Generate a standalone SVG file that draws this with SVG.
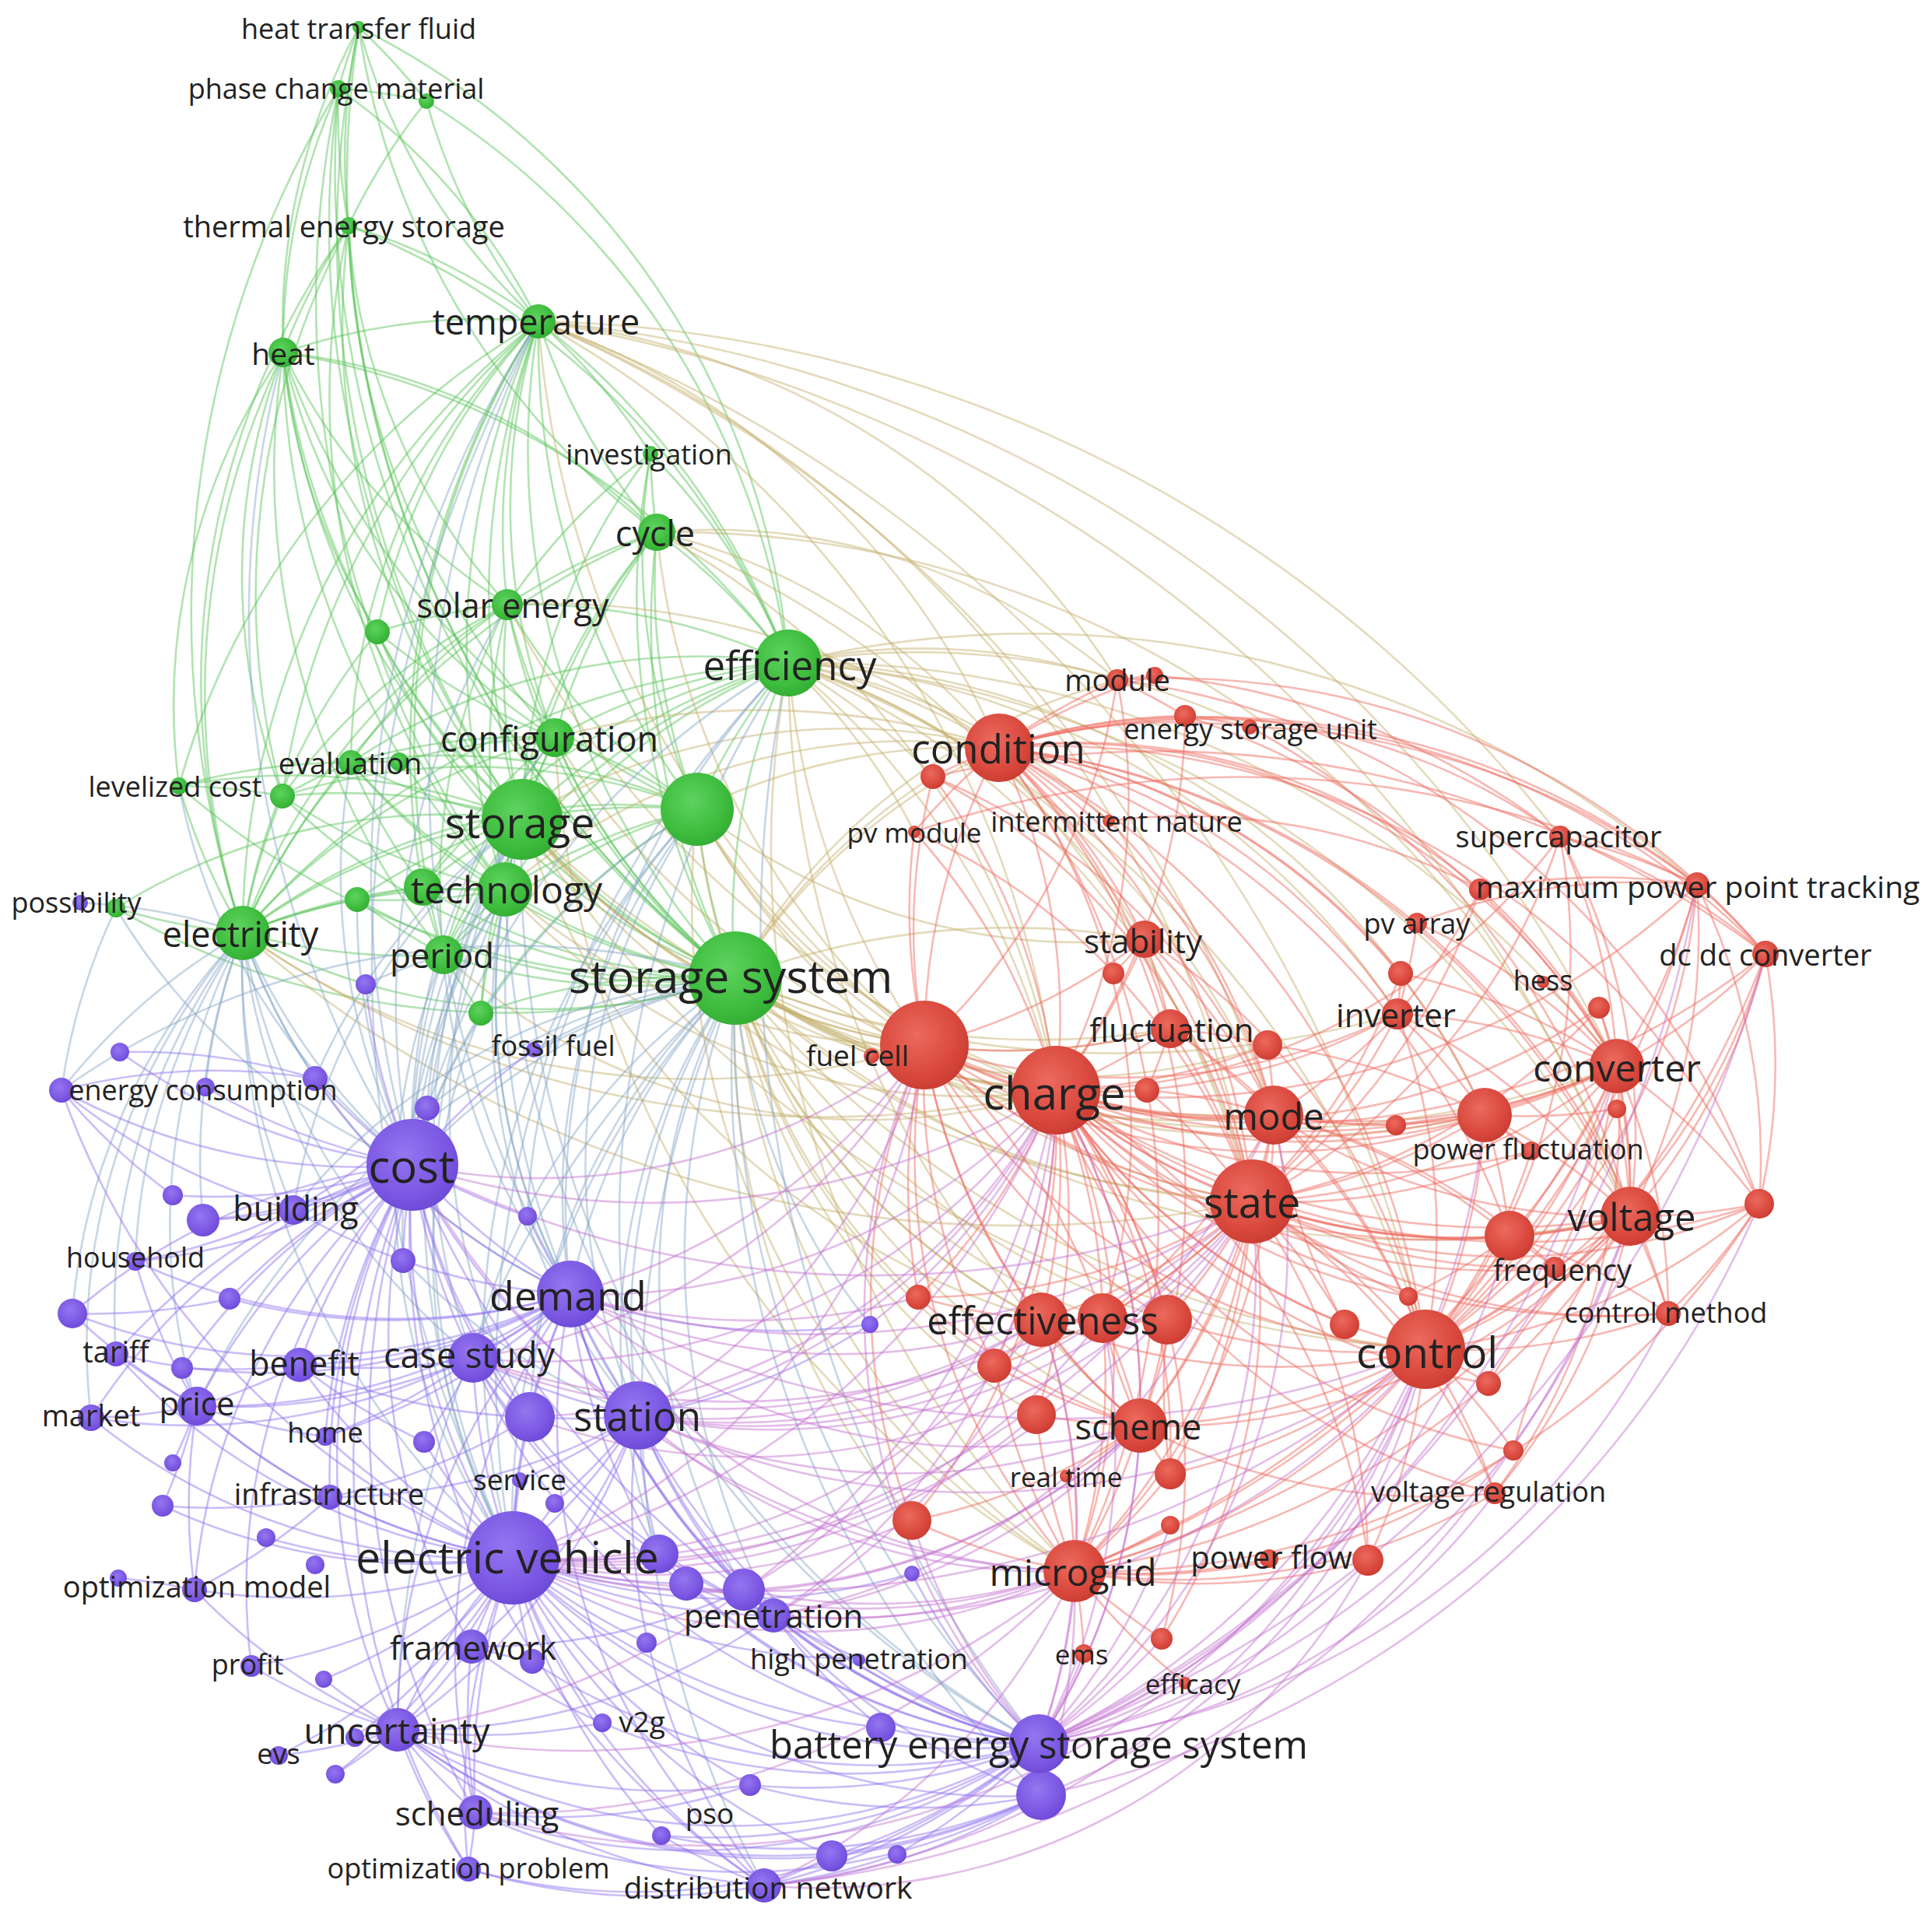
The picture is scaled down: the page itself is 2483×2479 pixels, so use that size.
<svg xmlns="http://www.w3.org/2000/svg" width="2483" height="2479" viewBox="0 0 2483 2479">
<style>
.e path{fill:none;stroke-width:2.6;stroke-linecap:round}
.g path{stroke:#5cc55c;stroke-opacity:.48}
.r path{stroke:#ee6a60;stroke-opacity:.48}
.p path{stroke:#8c6ff0;stroke-opacity:.46}
.gr path{stroke:#c4ae6a;stroke-opacity:.46}
.gp path{stroke:#86a6c6;stroke-opacity:.46}
.pr path{stroke:#c36fcf;stroke-opacity:.46}
.ng{fill:url(#radG)}
.nr{fill:url(#radR)}
.np{fill:url(#radP)}
text{font-family:"Open Sans","DejaVu Sans",sans-serif;fill:#222222;text-anchor:middle;dominant-baseline:central}
</style>
<defs>
<radialGradient id="radG" cx=".42" cy=".38" r=".65"><stop offset="0" stop-color="#5fd35f"/><stop offset=".7" stop-color="#3dbc3d"/><stop offset="1" stop-color="#33ad33"/></radialGradient>
<radialGradient id="radR" cx=".42" cy=".38" r=".65"><stop offset="0" stop-color="#ec6a5e"/><stop offset=".7" stop-color="#d9483d"/><stop offset="1" stop-color="#c93c32"/></radialGradient>
<radialGradient id="radP" cx=".42" cy=".38" r=".65"><stop offset="0" stop-color="#9476f0"/><stop offset=".7" stop-color="#7b57e3"/><stop offset="1" stop-color="#6c49d6"/></radialGradient>
</defs>
<rect width="2483" height="2479" fill="#ffffff"/>
<g id="connectors" class="e">
<g class="g">
<path d="M364 453A800 800 0 0 1 692 413"/><path d="M448 290A800 800 0 0 1 692 413"/><path d="M435 114A800 800 0 0 1 692 413"/><path d="M692 413A800 800 0 0 1 461 35"/><path d="M844 684A800 800 0 0 1 692 413"/><path d="M652 777A800 800 0 0 1 692 413"/><path d="M671 1053A1000 1000 0 0 1 692 413"/><path d="M945 1257A1000 1000 0 0 1 692 413"/><path d="M692 413A1000 1000 0 0 1 1013 852"/><path d="M312 1199A1000 1000 0 0 1 692 413"/><path d="M649 1143A1000 1000 0 0 1 692 413"/><path d="M713 948A800 800 0 0 1 692 413"/><path d="M896 1040A1000 1000 0 0 1 692 413"/><path d="M570 1227A1000 1000 0 0 1 692 413"/><path d="M692 413A800 800 0 0 1 836 583"/><path d="M485 812A800 800 0 0 1 692 413"/><path d="M363 1023A1000 1000 0 0 1 692 413"/><path d="M451 980A800 800 0 0 1 692 413"/><path d="M230 1010A1000 1000 0 0 1 692 413"/><path d="M543 1140A1000 1000 0 0 1 692 413"/>
<path d="M435 114A800 800 0 0 1 461 35"/><path d="M448 290A800 800 0 0 1 461 35"/><path d="M461 35A800 800 0 0 1 548 130"/><path d="M364 453A800 800 0 0 1 461 35"/><path d="M945 1257A1300 1300 0 0 1 461 35"/><path d="M671 1053A1300 1300 0 0 1 461 35"/><path d="M461 35A1000 1000 0 0 1 1013 852"/><path d="M844 684A1000 1000 0 0 1 461 35"/>
<path d="M448 290A800 800 0 0 1 435 114"/><path d="M364 453A800 800 0 0 1 435 114"/><path d="M435 114A800 800 0 0 1 548 130"/><path d="M671 1053A1300 1300 0 0 1 435 114"/><path d="M945 1257A1300 1300 0 0 1 435 114"/><path d="M649 1143A1300 1300 0 0 1 435 114"/><path d="M312 1199A1300 1300 0 0 1 435 114"/>
<path d="M692 413A800 800 0 0 1 548 130"/><path d="M548 130A1000 1000 0 0 1 1013 852"/><path d="M448 290A800 800 0 0 1 548 130"/>
<path d="M364 453A800 800 0 0 1 448 290"/><path d="M671 1053A1000 1000 0 0 1 448 290"/><path d="M945 1257A1300 1300 0 0 1 448 290"/><path d="M652 777A800 800 0 0 1 448 290"/><path d="M649 1143A1000 1000 0 0 1 448 290"/><path d="M312 1199A1000 1000 0 0 1 448 290"/><path d="M713 948A1000 1000 0 0 1 448 290"/><path d="M448 290A1000 1000 0 0 1 1013 852"/><path d="M363 1023A1000 1000 0 0 1 448 290"/>
<path d="M671 1053A1000 1000 0 0 1 364 453"/><path d="M945 1257A1000 1000 0 0 1 364 453"/><path d="M312 1199A1000 1000 0 0 1 364 453"/><path d="M649 1143A1000 1000 0 0 1 364 453"/><path d="M652 777A800 800 0 0 1 364 453"/><path d="M713 948A800 800 0 0 1 364 453"/><path d="M364 453A1000 1000 0 0 1 1013 852"/><path d="M570 1227A1000 1000 0 0 1 364 453"/><path d="M363 1023A800 800 0 0 1 364 453"/><path d="M485 812A800 800 0 0 1 364 453"/><path d="M364 453A800 800 0 0 1 844 684"/><path d="M230 1010A800 800 0 0 1 364 453"/><path d="M896 1040A1000 1000 0 0 1 364 453"/>
<path d="M844 684A800 800 0 0 1 836 583"/><path d="M844 684A800 800 0 0 1 1013 852"/><path d="M671 1053A800 800 0 0 1 844 684"/><path d="M945 1257A1000 1000 0 0 1 844 684"/><path d="M652 777A800 800 0 0 1 844 684"/><path d="M649 1143A800 800 0 0 1 844 684"/><path d="M713 948A800 800 0 0 1 844 684"/><path d="M896 1040A800 800 0 0 1 844 684"/><path d="M312 1199A1000 1000 0 0 1 844 684"/>
<path d="M836 583A800 800 0 0 1 1013 852"/><path d="M652 777A800 800 0 0 1 836 583"/><path d="M945 1257A1000 1000 0 0 1 836 583"/><path d="M671 1053A800 800 0 0 1 836 583"/>
<path d="M671 1053A800 800 0 0 1 652 777"/><path d="M945 1257A800 800 0 0 1 652 777"/><path d="M652 777A800 800 0 0 1 1013 852"/><path d="M713 948A800 800 0 0 1 652 777"/><path d="M649 1143A800 800 0 0 1 652 777"/><path d="M312 1199A800 800 0 0 1 652 777"/><path d="M485 812A800 800 0 0 1 652 777"/><path d="M451 980A800 800 0 0 1 652 777"/><path d="M570 1227A800 800 0 0 1 652 777"/><path d="M896 1040A800 800 0 0 1 652 777"/><path d="M363 1023A800 800 0 0 1 652 777"/>
<path d="M671 1053A800 800 0 0 1 1013 852"/><path d="M945 1257A800 800 0 0 1 1013 852"/><path d="M896 1040A800 800 0 0 1 1013 852"/><path d="M713 948A800 800 0 0 1 1013 852"/><path d="M649 1143A800 800 0 0 1 1013 852"/><path d="M312 1199A1000 1000 0 0 1 1013 852"/><path d="M570 1227A800 800 0 0 1 1013 852"/><path d="M451 980A800 800 0 0 1 1013 852"/><path d="M543 1140A800 800 0 0 1 1013 852"/>
<path d="M671 1053A800 800 0 0 1 713 948"/><path d="M945 1257A800 800 0 0 1 713 948"/><path d="M713 948A800 800 0 0 1 896 1040"/><path d="M649 1143A800 800 0 0 1 713 948"/><path d="M312 1199A800 800 0 0 1 713 948"/><path d="M570 1227A800 800 0 0 1 713 948"/><path d="M451 980A800 800 0 0 1 713 948"/><path d="M543 1140A800 800 0 0 1 713 948"/><path d="M513 979A800 800 0 0 1 713 948"/>
<path d="M945 1257A800 800 0 0 1 671 1053"/><path d="M671 1053A800 800 0 0 1 896 1040"/><path d="M649 1143A800 800 0 0 1 671 1053"/><path d="M312 1199A800 800 0 0 1 671 1053"/><path d="M570 1227A800 800 0 0 1 671 1053"/><path d="M671 1053A800 800 0 0 1 451 980"/><path d="M230 1010A800 800 0 0 1 671 1053"/><path d="M363 1023A800 800 0 0 1 671 1053"/><path d="M459 1156A800 800 0 0 1 671 1053"/><path d="M543 1140A800 800 0 0 1 671 1053"/><path d="M149 1167A800 800 0 0 1 671 1053"/><path d="M671 1053A800 800 0 0 1 485 812"/><path d="M618 1302A800 800 0 0 1 671 1053"/>
<path d="M945 1257A800 800 0 0 1 896 1040"/><path d="M945 1257A800 800 0 0 1 649 1143"/><path d="M945 1257A800 800 0 0 1 312 1199"/><path d="M945 1257A800 800 0 0 1 570 1227"/><path d="M618 1302A800 800 0 0 1 945 1257"/><path d="M945 1257A800 800 0 0 1 459 1156"/><path d="M945 1257A800 800 0 0 1 543 1140"/><path d="M945 1257A800 800 0 0 1 363 1023"/><path d="M945 1257A800 800 0 0 1 451 980"/><path d="M945 1257A1000 1000 0 0 1 230 1010"/><path d="M945 1257A1000 1000 0 0 1 149 1167"/><path d="M945 1257A800 800 0 0 1 485 812"/>
<path d="M649 1143A800 800 0 0 1 896 1040"/><path d="M312 1199A800 800 0 0 1 896 1040"/><path d="M570 1227A800 800 0 0 1 896 1040"/><path d="M451 980A800 800 0 0 1 896 1040"/><path d="M363 1023A800 800 0 0 1 896 1040"/>
<path d="M312 1199A800 800 0 0 1 649 1143"/><path d="M570 1227A800 800 0 0 1 312 1199"/><path d="M312 1199A800 800 0 0 1 149 1167"/><path d="M312 1199A800 800 0 0 1 230 1010"/><path d="M312 1199A800 800 0 0 1 363 1023"/><path d="M312 1199A800 800 0 0 1 543 1140"/><path d="M312 1199A800 800 0 0 1 459 1156"/><path d="M312 1199A800 800 0 0 1 451 980"/>
<path d="M570 1227A800 800 0 0 1 649 1143"/><path d="M649 1143A800 800 0 0 1 543 1140"/><path d="M649 1143A800 800 0 0 1 459 1156"/><path d="M649 1143A800 800 0 0 1 363 1023"/><path d="M649 1143A800 800 0 0 1 451 980"/><path d="M570 1227A800 800 0 0 1 459 1156"/><path d="M618 1302A800 800 0 0 1 570 1227"/><path d="M451 980A800 800 0 0 1 513 979"/><path d="M230 1010A800 800 0 0 1 451 980"/><path d="M363 1023A800 800 0 0 1 451 980"/><path d="M230 1010A800 800 0 0 1 363 1023"/><path d="M713 948A800 800 0 0 1 485 812"/><path d="M312 1199A800 800 0 0 1 485 812"/>
<path d="M896 1040A800 800 0 0 1 836 583"/><path d="M618 1302A800 800 0 0 1 896 1040"/><path d="M618 1302A800 800 0 0 1 649 1143"/><path d="M945 1257A800 800 0 0 1 713 948"/><path d="M459 1156A800 800 0 0 1 543 1140"/><path d="M543 1140A800 800 0 0 1 451 980"/><path d="M570 1227A800 800 0 0 1 543 1140"/>
</g>
<g class="gr">
<path d="M692 413A1000 1000 0 0 1 1284 961"/><path d="M692 413A1300 1300 0 0 1 1357 1401"/><path d="M692 413A1500 1500 0 0 1 1609 1544"/><path d="M692 413A1000 1000 0 0 1 1436 874"/><path d="M692 413A1700 1700 0 0 1 2005 1075"/><path d="M692 413A1700 1700 0 0 1 2078 1370"/><path d="M692 413A1800 1800 0 0 1 2095 1563"/><path d="M1188 1343A1300 1300 0 0 1 692 413"/><path d="M692 413A1700 1700 0 0 1 1637 1433"/><path d="M692 413A1800 1800 0 0 1 1832 1734"/>
<path d="M844 684A800 800 0 0 1 1284 961"/><path d="M844 684A1000 1000 0 0 1 1357 1401"/><path d="M1188 1343A1000 1000 0 0 1 844 684"/><path d="M844 684A800 800 0 0 1 1436 874"/><path d="M844 684A1300 1300 0 0 1 1609 1544"/><path d="M652 777A1000 1000 0 0 1 1284 961"/><path d="M1357 1401A1300 1300 0 0 1 652 777"/>
<path d="M1013 852A800 800 0 0 1 1284 961"/><path d="M1013 852A1000 1000 0 0 1 1357 1401"/><path d="M1188 1343A1000 1000 0 0 1 1013 852"/><path d="M1013 852A1000 1000 0 0 1 1609 1544"/><path d="M1013 852A1000 1000 0 0 1 1637 1433"/><path d="M1013 852A1300 1300 0 0 1 1832 1734"/><path d="M1013 852A800 800 0 0 1 1436 874"/><path d="M1013 852A1000 1000 0 0 1 1606 934"/><path d="M1013 852A1300 1300 0 0 1 2078 1370"/><path d="M1013 852A1300 1300 0 0 1 2095 1563"/><path d="M1013 852A800 800 0 0 1 1471 1207"/><path d="M1013 852A800 800 0 0 1 1425 1055"/><path d="M1013 852A800 800 0 0 1 1199 998"/><path d="M1013 852A800 800 0 0 1 1175 1069"/><path d="M1013 852A1300 1300 0 0 1 2181 1137"/><path d="M1465 1832A1300 1300 0 0 1 1013 852"/><path d="M1381 2019A1300 1300 0 0 1 1013 852"/><path d="M1013 852A1000 1000 0 0 1 1796 1303"/>
<path d="M713 948A1000 1000 0 0 1 1284 961"/><path d="M1357 1401A1000 1000 0 0 1 713 948"/><path d="M1381 2019A1300 1300 0 0 1 713 948"/><path d="M1357 1401A1000 1000 0 0 1 671 1053"/><path d="M1188 1343A800 800 0 0 1 671 1053"/><path d="M671 1053A800 800 0 0 1 1284 961"/><path d="M1609 1544A1300 1300 0 0 1 671 1053"/><path d="M1832 1734A1500 1500 0 0 1 671 1053"/><path d="M1637 1433A1300 1300 0 0 1 671 1053"/>
<path d="M1357 1401A800 800 0 0 1 945 1257"/><path d="M1188 1343A800 800 0 0 1 945 1257"/><path d="M1609 1544A1000 1000 0 0 1 945 1257"/><path d="M1832 1734A1300 1300 0 0 1 945 1257"/><path d="M1637 1433A1000 1000 0 0 1 945 1257"/><path d="M945 1257A800 800 0 0 1 1284 961"/><path d="M1381 2019A1000 1000 0 0 1 945 1257"/><path d="M1338 1696A800 800 0 0 1 945 1257"/><path d="M2078 1370A1300 1300 0 0 1 945 1257"/><path d="M2095 1563A1300 1300 0 0 1 945 1257"/><path d="M1465 1832A1000 1000 0 0 1 945 1257"/><path d="M945 1257A1000 1000 0 0 1 1471 1207"/><path d="M1504 1322A1000 1000 0 0 1 945 1257"/><path d="M1796 1303A1300 1300 0 0 1 945 1257"/><path d="M1908 1433A1300 1300 0 0 1 945 1257"/><path d="M945 1257A800 800 0 0 1 1436 874"/><path d="M945 1257A800 800 0 0 1 1199 998"/><path d="M1500 1696A1000 1000 0 0 1 945 1257"/><path d="M1180 1667A800 800 0 0 1 945 1257"/>
<path d="M896 1040A800 800 0 0 1 1284 961"/><path d="M1357 1401A800 800 0 0 1 896 1040"/><path d="M1188 1343A800 800 0 0 1 896 1040"/><path d="M1609 1544A1000 1000 0 0 1 896 1040"/><path d="M1357 1401A1300 1300 0 0 1 312 1199"/><path d="M1188 1343A1000 1000 0 0 1 312 1199"/><path d="M1609 1544A1500 1500 0 0 1 312 1199"/><path d="M1357 1401A800 800 0 0 1 649 1143"/><path d="M1188 1343A800 800 0 0 1 649 1143"/><path d="M649 1143A800 800 0 0 1 1284 961"/><path d="M1357 1401A800 800 0 0 1 570 1227"/>
<path d="M1417 1694A800 800 0 0 1 945 1257"/><path d="M1332 1818A800 800 0 0 1 945 1257"/><path d="M1278 1755A800 800 0 0 1 945 1257"/><path d="M1172 1954A1000 1000 0 0 1 945 1257"/><path d="M1629 1343A800 800 0 0 1 945 1257"/><path d="M1474 1401A800 800 0 0 1 945 1257"/><path d="M1338 1696A800 800 0 0 1 896 1040"/><path d="M1471 1207A800 800 0 0 1 896 1040"/><path d="M1504 1322A800 800 0 0 1 671 1053"/><path d="M1338 1696A1000 1000 0 0 1 671 1053"/><path d="M1013 852A1000 1000 0 0 1 1908 1433"/><path d="M844 684A1300 1300 0 0 1 2095 1563"/><path d="M1381 2019A1000 1000 0 0 1 896 1040"/>
</g>
<g class="gp">
<path d="M530 1497A1300 1300 0 0 1 692 413"/><path d="M659 2002A1700 1700 0 0 1 692 413"/><path d="M733 1663A1300 1300 0 0 1 692 413"/><path d="M530 1497A1300 1300 0 0 1 364 453"/><path d="M530 1497A1000 1000 0 0 1 652 777"/><path d="M530 1497A1000 1000 0 0 1 1013 852"/><path d="M659 2002A1300 1300 0 0 1 1013 852"/><path d="M733 1663A1000 1000 0 0 1 1013 852"/><path d="M1335 2241A1700 1700 0 0 1 1013 852"/><path d="M820 1819A1300 1300 0 0 1 1013 852"/><path d="M530 1497A800 800 0 0 1 713 948"/>
<path d="M530 1497A800 800 0 0 1 671 1053"/><path d="M733 1663A800 800 0 0 1 671 1053"/><path d="M659 2002A1000 1000 0 0 1 671 1053"/><path d="M820 1819A1000 1000 0 0 1 671 1053"/><path d="M608 1745A800 800 0 0 1 671 1053"/><path d="M377 1555A800 800 0 0 1 671 1053"/><path d="M1335 2241A1300 1300 0 0 1 671 1053"/>
<path d="M530 1497A800 800 0 0 1 945 1257"/><path d="M659 2002A1000 1000 0 0 1 945 1257"/><path d="M733 1663A800 800 0 0 1 945 1257"/><path d="M820 1819A800 800 0 0 1 945 1257"/><path d="M608 1745A800 800 0 0 1 945 1257"/><path d="M1335 2241A1300 1300 0 0 1 945 1257"/><path d="M1338 2307A1300 1300 0 0 1 945 1257"/><path d="M681 1821A800 800 0 0 1 945 1257"/><path d="M994 2076A1000 1000 0 0 1 945 1257"/><path d="M377 1555A800 800 0 0 1 945 1257"/><path d="M79 1401A1000 1000 0 0 1 945 1257"/><path d="M511 2223A1300 1300 0 0 1 945 1257"/><path d="M253 1807A1000 1000 0 0 1 945 1257"/><path d="M982 2423A1300 1300 0 0 1 945 1257"/><path d="M1118 1702A800 800 0 0 1 945 1257"/>
<path d="M530 1497A800 800 0 0 1 896 1040"/><path d="M733 1663A800 800 0 0 1 896 1040"/><path d="M659 2002A1000 1000 0 0 1 896 1040"/><path d="M820 1819A800 800 0 0 1 896 1040"/>
<path d="M530 1497A800 800 0 0 1 312 1199"/><path d="M659 2002A1000 1000 0 0 1 312 1199"/><path d="M733 1663A800 800 0 0 1 312 1199"/><path d="M79 1401A800 800 0 0 1 312 1199"/><path d="M264 1397A800 800 0 0 1 312 1199"/><path d="M377 1555A800 800 0 0 1 312 1199"/><path d="M253 1807A800 800 0 0 1 312 1199"/><path d="M261 1568A800 800 0 0 1 312 1199"/><path d="M149 1740A800 800 0 0 1 312 1199"/><path d="M174 1621A800 800 0 0 1 312 1199"/><path d="M93 1688A800 800 0 0 1 312 1199"/><path d="M117 1822A800 800 0 0 1 312 1199"/><path d="M820 1819A800 800 0 0 1 312 1199"/><path d="M608 1745A800 800 0 0 1 312 1199"/>
<path d="M530 1497A800 800 0 0 1 649 1143"/><path d="M733 1663A800 800 0 0 1 649 1143"/><path d="M659 2002A1000 1000 0 0 1 649 1143"/><path d="M820 1819A800 800 0 0 1 649 1143"/><path d="M1335 2241A1300 1300 0 0 1 649 1143"/><path d="M530 1497A800 800 0 0 1 570 1227"/><path d="M659 2002A800 800 0 0 1 570 1227"/><path d="M733 1663A800 800 0 0 1 570 1227"/><path d="M470 1265A800 800 0 0 1 570 1227"/><path d="M530 1497A800 800 0 0 1 451 980"/><path d="M530 1497A800 800 0 0 1 230 1010"/><path d="M530 1497A800 800 0 0 1 149 1167"/><path d="M79 1401A800 800 0 0 1 149 1167"/><path d="M530 1497A800 800 0 0 1 618 1302"/><path d="M659 2002A800 800 0 0 1 618 1302"/><path d="M530 1497A800 800 0 0 1 459 1156"/>
<path d="M681 1821A800 800 0 0 1 671 1053"/><path d="M549 1424A800 800 0 0 1 671 1053"/><path d="M686 1349A800 800 0 0 1 945 1257"/><path d="M549 1424A800 800 0 0 1 945 1257"/><path d="M847 1997A800 800 0 0 1 945 1257"/><path d="M956 2043A800 800 0 0 1 945 1257"/><path d="M405 1386A800 800 0 0 1 671 1053"/><path d="M405 1386A800 800 0 0 1 312 1199"/><path d="M518 1620A800 800 0 0 1 649 1143"/><path d="M103 1160A800 800 0 0 1 312 1199"/><path d="M678 1563A800 800 0 0 1 896 1040"/>
</g>
<g class="r">
<path d="M1357 1401A800 800 0 0 1 1188 1343"/><path d="M1609 1544A800 800 0 0 1 1357 1401"/><path d="M1832 1734A800 800 0 0 1 1357 1401"/><path d="M1637 1433A800 800 0 0 1 1357 1401"/><path d="M1284 961A800 800 0 0 1 1357 1401"/><path d="M2078 1370A1000 1000 0 0 1 1357 1401"/><path d="M2095 1563A1000 1000 0 0 1 1357 1401"/><path d="M1357 1401A800 800 0 0 1 1381 2019"/><path d="M1357 1401A800 800 0 0 1 1465 1832"/><path d="M1357 1401A800 800 0 0 1 1338 1696"/><path d="M1357 1401A800 800 0 0 1 1417 1694"/><path d="M1357 1401A800 800 0 0 1 1500 1696"/><path d="M1908 1433A800 800 0 0 1 1357 1401"/><path d="M1940 1588A800 800 0 0 1 1357 1401"/><path d="M1504 1322A800 800 0 0 1 1357 1401"/><path d="M1471 1207A800 800 0 0 1 1357 1401"/><path d="M1796 1303A800 800 0 0 1 1357 1401"/><path d="M1629 1343A800 800 0 0 1 1357 1401"/><path d="M1968 1479A800 800 0 0 1 1357 1401"/><path d="M2144 1688A1000 1000 0 0 1 1357 1401"/><path d="M1998 1629A800 800 0 0 1 1357 1401"/><path d="M1921 1919A800 800 0 0 1 1357 1401"/><path d="M1357 1401A800 800 0 0 1 1758 2005"/><path d="M1357 1401A800 800 0 0 1 1172 1954"/><path d="M1357 1401A800 800 0 0 1 1278 1755"/><path d="M1357 1401A800 800 0 0 1 1332 1818"/><path d="M1199 998A800 800 0 0 1 1357 1401"/><path d="M1175 1069A800 800 0 0 1 1357 1401"/><path d="M1436 874A800 800 0 0 1 1357 1401"/><path d="M1523 920A800 800 0 0 1 1357 1401"/><path d="M2005 1075A800 800 0 0 1 1357 1401"/><path d="M2181 1137A1000 1000 0 0 1 1357 1401"/><path d="M2269 1226A1000 1000 0 0 1 1357 1401"/><path d="M2261 1547A1000 1000 0 0 1 1357 1401"/><path d="M1357 1401A800 800 0 0 1 1180 1667"/><path d="M1357 1401A800 800 0 0 1 1504 1894"/><path d="M1913 1778A800 800 0 0 1 1357 1401"/><path d="M1945 1864A800 800 0 0 1 1357 1401"/><path d="M1728 1702A800 800 0 0 1 1357 1401"/><path d="M1810 1666A800 800 0 0 1 1357 1401"/><path d="M2055 1295A800 800 0 0 1 1357 1401"/>
<path d="M1609 1544A800 800 0 0 1 1188 1343"/><path d="M1832 1734A800 800 0 0 1 1188 1343"/><path d="M1637 1433A800 800 0 0 1 1188 1343"/><path d="M1188 1343A800 800 0 0 1 1284 961"/><path d="M2078 1370A1000 1000 0 0 1 1188 1343"/><path d="M2095 1563A1000 1000 0 0 1 1188 1343"/><path d="M1381 2019A800 800 0 0 1 1188 1343"/><path d="M1465 1832A800 800 0 0 1 1188 1343"/><path d="M1338 1696A800 800 0 0 1 1188 1343"/><path d="M1500 1696A800 800 0 0 1 1188 1343"/><path d="M1188 1343A800 800 0 0 1 1199 998"/><path d="M1188 1343A800 800 0 0 1 1175 1069"/><path d="M1180 1667A800 800 0 0 1 1188 1343"/><path d="M1278 1755A800 800 0 0 1 1188 1343"/><path d="M1172 1954A800 800 0 0 1 1188 1343"/><path d="M1471 1207A800 800 0 0 1 1188 1343"/><path d="M1504 1322A800 800 0 0 1 1188 1343"/><path d="M1908 1433A800 800 0 0 1 1188 1343"/><path d="M1796 1303A800 800 0 0 1 1188 1343"/><path d="M1436 874A800 800 0 0 1 1188 1343"/>
<path d="M1609 1544A800 800 0 0 1 1832 1734"/><path d="M1637 1433A800 800 0 0 1 1609 1544"/><path d="M2078 1370A800 800 0 0 1 1609 1544"/><path d="M2095 1563A800 800 0 0 1 1609 1544"/><path d="M1908 1433A800 800 0 0 1 1609 1544"/><path d="M1940 1588A800 800 0 0 1 1609 1544"/><path d="M1609 1544A800 800 0 0 1 1381 2019"/><path d="M1609 1544A800 800 0 0 1 1465 1832"/><path d="M1609 1544A800 800 0 0 1 1338 1696"/><path d="M1609 1544A800 800 0 0 1 1417 1694"/><path d="M1609 1544A800 800 0 0 1 1500 1696"/><path d="M1609 1544A800 800 0 0 1 1728 1702"/><path d="M1810 1666A800 800 0 0 1 1609 1544"/><path d="M2261 1547A800 800 0 0 1 1609 1544"/><path d="M1998 1629A800 800 0 0 1 1609 1544"/><path d="M2144 1688A800 800 0 0 1 1609 1544"/><path d="M1504 1322A800 800 0 0 1 1609 1544"/><path d="M1471 1207A800 800 0 0 1 1609 1544"/><path d="M1796 1303A800 800 0 0 1 1609 1544"/><path d="M2055 1295A800 800 0 0 1 1609 1544"/><path d="M1800 1251A800 800 0 0 1 1609 1544"/><path d="M1609 1544A800 800 0 0 1 1758 2005"/><path d="M1609 1544A800 800 0 0 1 1921 1919"/><path d="M1284 961A800 800 0 0 1 1609 1544"/><path d="M1609 1544A800 800 0 0 1 1180 1667"/><path d="M1609 1544A800 800 0 0 1 1278 1755"/><path d="M1968 1479A800 800 0 0 1 1609 1544"/><path d="M1902 1143A800 800 0 0 1 1609 1544"/><path d="M2005 1075A800 800 0 0 1 1609 1544"/><path d="M1609 1544A800 800 0 0 1 1504 1894"/>
<path d="M2078 1370A800 800 0 0 1 1832 1734"/><path d="M2095 1563A800 800 0 0 1 1832 1734"/><path d="M1637 1433A800 800 0 0 1 1832 1734"/><path d="M1908 1433A800 800 0 0 1 1832 1734"/><path d="M1940 1588A800 800 0 0 1 1832 1734"/><path d="M1832 1734A800 800 0 0 1 1381 2019"/><path d="M1832 1734A800 800 0 0 1 1465 1832"/><path d="M1832 1734A800 800 0 0 1 1338 1696"/><path d="M1832 1734A800 800 0 0 1 1500 1696"/><path d="M1832 1734A800 800 0 0 1 1921 1919"/><path d="M1832 1734A800 800 0 0 1 1945 1864"/><path d="M1832 1734A800 800 0 0 1 1913 1778"/><path d="M2144 1688A800 800 0 0 1 1832 1734"/><path d="M1998 1629A800 800 0 0 1 1832 1734"/><path d="M2261 1547A800 800 0 0 1 1832 1734"/><path d="M1832 1734A800 800 0 0 1 1758 2005"/><path d="M1832 1734A800 800 0 0 1 1504 1894"/><path d="M1796 1303A800 800 0 0 1 1832 1734"/><path d="M2269 1226A800 800 0 0 1 1832 1734"/><path d="M2181 1137A800 800 0 0 1 1832 1734"/><path d="M1284 961A1000 1000 0 0 1 1832 1734"/><path d="M1504 1322A800 800 0 0 1 1832 1734"/><path d="M1968 1479A800 800 0 0 1 1832 1734"/><path d="M2078 1425A800 800 0 0 1 1832 1734"/>
<path d="M1284 961A800 800 0 0 1 1436 874"/><path d="M1284 961A800 800 0 0 1 1484 868"/><path d="M1284 961A800 800 0 0 1 1523 920"/><path d="M1284 961A800 800 0 0 1 1606 934"/><path d="M1199 998A800 800 0 0 1 1284 961"/><path d="M1175 1069A800 800 0 0 1 1284 961"/><path d="M1284 961A800 800 0 0 1 1425 1055"/><path d="M1284 961A800 800 0 0 1 1471 1207"/><path d="M1284 961A800 800 0 0 1 1504 1322"/><path d="M1284 961A800 800 0 0 1 1637 1433"/><path d="M1284 961A800 800 0 0 1 2078 1370"/><path d="M1284 961A1000 1000 0 0 1 2095 1563"/><path d="M1284 961A800 800 0 0 1 1796 1303"/><path d="M1284 961A800 800 0 0 1 2005 1075"/><path d="M1284 961A800 800 0 0 1 1902 1143"/><path d="M1284 961A1000 1000 0 0 1 2181 1137"/><path d="M1284 961A1000 1000 0 0 1 2269 1226"/><path d="M1284 961A1000 1000 0 0 1 2261 1547"/><path d="M1284 961A800 800 0 0 1 1908 1433"/><path d="M1284 961A1000 1000 0 0 1 1940 1588"/><path d="M1284 961A800 800 0 0 1 1417 1694"/><path d="M1284 961A1000 1000 0 0 1 1381 2019"/><path d="M1284 961A800 800 0 0 1 1465 1832"/><path d="M1284 961A800 800 0 0 1 1800 1251"/>
<path d="M2078 1370A800 800 0 0 1 2095 1563"/><path d="M2078 1370A800 800 0 0 1 1908 1433"/><path d="M2078 1370A800 800 0 0 1 1940 1588"/><path d="M2181 1137A800 800 0 0 1 2078 1370"/><path d="M1902 1143A800 800 0 0 1 2078 1370"/><path d="M2269 1226A800 800 0 0 1 2078 1370"/><path d="M2055 1295A800 800 0 0 1 2078 1370"/><path d="M1796 1303A800 800 0 0 1 2078 1370"/><path d="M2005 1075A800 800 0 0 1 2078 1370"/><path d="M2078 1370A800 800 0 0 1 2261 1547"/><path d="M2078 1370A800 800 0 0 1 1968 1479"/><path d="M2078 1370A800 800 0 0 1 1998 1629"/><path d="M2078 1370A800 800 0 0 1 2144 1688"/><path d="M2078 1370A800 800 0 0 1 1637 1433"/><path d="M2078 1370A800 800 0 0 1 1921 1919"/><path d="M1821 1186A800 800 0 0 1 2078 1370"/><path d="M1800 1251A800 800 0 0 1 2078 1370"/><path d="M2078 1370A1300 1300 0 0 1 1381 2019"/>
<path d="M1908 1433A800 800 0 0 1 2095 1563"/><path d="M2095 1563A800 800 0 0 1 1940 1588"/><path d="M2261 1547A800 800 0 0 1 2095 1563"/><path d="M2095 1563A800 800 0 0 1 1998 1629"/><path d="M2095 1563A800 800 0 0 1 2144 1688"/><path d="M2181 1137A800 800 0 0 1 2095 1563"/><path d="M2269 1226A800 800 0 0 1 2095 1563"/><path d="M2005 1075A800 800 0 0 1 2095 1563"/><path d="M2095 1563A800 800 0 0 1 1637 1433"/><path d="M1796 1303A800 800 0 0 1 2095 1563"/><path d="M2078 1425A800 800 0 0 1 2095 1563"/><path d="M2095 1563A800 800 0 0 1 1921 1919"/><path d="M2095 1563A1000 1000 0 0 1 1381 2019"/><path d="M2095 1563A800 800 0 0 1 1465 1832"/>
<path d="M1908 1433A800 800 0 0 1 1637 1433"/><path d="M1637 1433A800 800 0 0 1 1940 1588"/><path d="M1637 1433A800 800 0 0 1 1417 1694"/><path d="M1637 1433A800 800 0 0 1 1465 1832"/><path d="M1637 1433A800 800 0 0 1 1381 2019"/><path d="M1796 1303A800 800 0 0 1 1637 1433"/><path d="M1794 1446A800 800 0 0 1 1637 1433"/><path d="M1629 1343A800 800 0 0 1 1637 1433"/><path d="M1504 1322A800 800 0 0 1 1637 1433"/><path d="M1471 1207A800 800 0 0 1 1637 1433"/><path d="M1637 1433A800 800 0 0 1 1998 1629"/>
<path d="M1465 1832A800 800 0 0 1 1381 2019"/><path d="M1338 1696A800 800 0 0 1 1381 2019"/><path d="M1417 1694A800 800 0 0 1 1381 2019"/><path d="M1381 2019A800 800 0 0 1 1172 1954"/><path d="M1631 2003A800 800 0 0 1 1381 2019"/><path d="M1758 2005A800 800 0 0 1 1381 2019"/><path d="M1493 2106A800 800 0 0 1 1381 2019"/><path d="M1381 2019A800 800 0 0 1 1393 2125"/><path d="M1523 2163A800 800 0 0 1 1381 2019"/><path d="M1504 1960A800 800 0 0 1 1381 2019"/><path d="M1504 1894A800 800 0 0 1 1381 2019"/><path d="M1370 1897A800 800 0 0 1 1381 2019"/><path d="M1921 1919A800 800 0 0 1 1381 2019"/><path d="M1945 1864A800 800 0 0 1 1381 2019"/>
<path d="M1465 1832A800 800 0 0 1 1338 1696"/><path d="M1465 1832A800 800 0 0 1 1417 1694"/><path d="M1500 1696A800 800 0 0 1 1465 1832"/><path d="M1465 1832A800 800 0 0 1 1332 1818"/><path d="M1504 1894A800 800 0 0 1 1465 1832"/><path d="M1465 1832A800 800 0 0 1 1370 1897"/><path d="M1465 1832A800 800 0 0 1 1278 1755"/><path d="M1921 1919A800 800 0 0 1 1465 1832"/>
<path d="M1417 1694A800 800 0 0 1 1338 1696"/><path d="M1500 1696A800 800 0 0 1 1417 1694"/><path d="M1338 1696A800 800 0 0 1 1180 1667"/><path d="M1338 1696A800 800 0 0 1 1278 1755"/><path d="M1436 874A800 800 0 0 1 1484 868"/><path d="M1436 874A800 800 0 0 1 1523 920"/><path d="M1523 920A800 800 0 0 1 1606 934"/><path d="M1484 868A1000 1000 0 0 1 2005 1075"/><path d="M1606 934A1000 1000 0 0 1 2181 1137"/><path d="M1199 998A1300 1300 0 0 1 2269 1226"/><path d="M1425 1055A800 800 0 0 1 1902 1143"/><path d="M1436 874A1000 1000 0 0 1 2269 1226"/><path d="M1175 1069A1300 1300 0 0 1 2181 1137"/><path d="M2181 1137A800 800 0 0 1 2269 1226"/><path d="M2005 1075A800 800 0 0 1 2181 1137"/><path d="M1902 1143A800 800 0 0 1 2181 1137"/><path d="M2181 1137A800 800 0 0 1 2261 1547"/><path d="M2269 1226A800 800 0 0 1 2261 1547"/><path d="M2005 1075A800 800 0 0 1 2269 1226"/><path d="M1821 1186A800 800 0 0 1 2181 1137"/><path d="M1908 1433A800 800 0 0 1 1968 1479"/><path d="M1940 1588A800 800 0 0 1 1998 1629"/><path d="M1908 1433A800 800 0 0 1 1940 1588"/><path d="M2261 1547A800 800 0 0 1 2144 1688"/><path d="M2261 1547A1000 1000 0 0 1 1381 2019"/><path d="M2269 1226A1300 1300 0 0 1 1381 2019"/><path d="M2005 1075A800 800 0 0 1 1832 1734"/><path d="M2181 1137A1300 1300 0 0 1 1381 2019"/>
<path d="M1471 1207A800 800 0 0 1 1504 1322"/><path d="M1504 1322A800 800 0 0 1 1629 1343"/><path d="M1504 1322A800 800 0 0 1 1474 1401"/><path d="M1471 1207A800 800 0 0 1 1431 1251"/><path d="M1474 1401A800 800 0 0 1 1637 1433"/><path d="M1474 1401A800 800 0 0 1 1609 1544"/><path d="M1629 1343A800 800 0 0 1 1908 1433"/><path d="M1796 1303A800 800 0 0 1 1908 1433"/><path d="M1800 1251A800 800 0 0 1 1796 1303"/><path d="M1983 1262A800 800 0 0 1 2078 1370"/><path d="M2055 1295A800 800 0 0 1 2095 1563"/><path d="M1821 1186A800 800 0 0 1 1796 1303"/><path d="M1902 1143A800 800 0 0 1 1796 1303"/><path d="M1500 1696A800 800 0 0 1 1338 1696"/><path d="M1417 1694A800 800 0 0 1 1465 1832"/><path d="M1465 1832A800 800 0 0 1 1180 1667"/><path d="M1381 2019A800 800 0 0 1 1278 1755"/><path d="M1381 2019A800 800 0 0 1 1332 1818"/><path d="M1465 1832A800 800 0 0 1 1172 1954"/><path d="M1504 1894A800 800 0 0 1 1500 1696"/><path d="M1728 1702A800 800 0 0 1 1637 1433"/><path d="M1810 1666A800 800 0 0 1 1832 1734"/><path d="M1940 1588A800 800 0 0 1 1810 1666"/><path d="M1913 1778A800 800 0 0 1 2095 1563"/><path d="M1945 1864A800 800 0 0 1 2095 1563"/><path d="M1940 1588A800 800 0 0 1 2144 1688"/><path d="M1968 1479A800 800 0 0 1 1908 1433"/><path d="M2078 1425A800 800 0 0 1 1908 1433"/><path d="M1794 1446A800 800 0 0 1 1908 1433"/><path d="M1606 934A1000 1000 0 0 1 2095 1563"/><path d="M1436 874A1000 1000 0 0 1 2261 1547"/><path d="M1284 961A1000 1000 0 0 1 2144 1688"/><path d="M1523 920A1000 1000 0 0 1 2078 1370"/><path d="M1199 998A800 800 0 0 1 1637 1433"/><path d="M1199 998A800 800 0 0 1 1609 1544"/><path d="M1175 1069A800 800 0 0 1 1609 1544"/><path d="M1425 1055A800 800 0 0 1 1637 1433"/><path d="M1471 1207A800 800 0 0 1 1832 1734"/><path d="M1188 1343A800 800 0 0 1 1417 1694"/><path d="M1357 1401A800 800 0 0 1 1493 2106"/><path d="M1609 1544A800 800 0 0 1 1493 2106"/>
</g>
<g class="p">
<path d="M659 2002A800 800 0 0 1 530 1497"/><path d="M733 1663A800 800 0 0 1 530 1497"/><path d="M820 1819A800 800 0 0 1 530 1497"/><path d="M608 1745A800 800 0 0 1 530 1497"/><path d="M1335 2241A1300 1300 0 0 1 530 1497"/><path d="M681 1821A800 800 0 0 1 530 1497"/><path d="M511 2223A800 800 0 0 1 530 1497"/><path d="M253 1807A800 800 0 0 1 530 1497"/><path d="M530 1497A800 800 0 0 1 377 1555"/><path d="M530 1497A800 800 0 0 1 261 1568"/><path d="M530 1497A800 800 0 0 1 79 1401"/><path d="M530 1497A800 800 0 0 1 154 1352"/><path d="M530 1497A800 800 0 0 1 264 1397"/><path d="M530 1497A800 800 0 0 1 405 1386"/><path d="M530 1497A800 800 0 0 1 549 1424"/><path d="M530 1497A800 800 0 0 1 174 1621"/><path d="M518 1620A800 800 0 0 1 530 1497"/><path d="M678 1563A800 800 0 0 1 530 1497"/><path d="M295 1669A800 800 0 0 1 530 1497"/><path d="M93 1688A800 800 0 0 1 530 1497"/><path d="M149 1740A800 800 0 0 1 530 1497"/><path d="M385 1754A800 800 0 0 1 530 1497"/><path d="M117 1822A800 800 0 0 1 530 1497"/><path d="M418 1846A800 800 0 0 1 530 1497"/><path d="M424 1924A800 800 0 0 1 530 1497"/><path d="M250 2043A800 800 0 0 1 530 1497"/><path d="M606 2116A800 800 0 0 1 530 1497"/><path d="M611 2329A1000 1000 0 0 1 530 1497"/><path d="M994 2076A800 800 0 0 1 530 1497"/><path d="M530 1497A800 800 0 0 1 222 1536"/><path d="M234 1758A800 800 0 0 1 530 1497"/><path d="M323 2141A800 800 0 0 1 530 1497"/><path d="M602 2402A1000 1000 0 0 1 530 1497"/><path d="M982 2423A1000 1000 0 0 1 530 1497"/><path d="M530 1497A800 800 0 0 1 470 1265"/><path d="M530 1497A800 800 0 0 1 686 1349"/>
<path d="M659 2002A800 800 0 0 1 733 1663"/><path d="M820 1819A800 800 0 0 1 659 2002"/><path d="M659 2002A800 800 0 0 1 608 1745"/><path d="M659 2002A800 800 0 0 1 681 1821"/><path d="M1335 2241A800 800 0 0 1 659 2002"/><path d="M1338 2307A800 800 0 0 1 659 2002"/><path d="M511 2223A800 800 0 0 1 659 2002"/><path d="M659 2002A800 800 0 0 1 253 1807"/><path d="M659 2002A800 800 0 0 1 385 1754"/><path d="M659 2002A800 800 0 0 1 424 1924"/><path d="M606 2116A800 800 0 0 1 659 2002"/><path d="M611 2329A800 800 0 0 1 659 2002"/><path d="M847 1997A800 800 0 0 1 659 2002"/><path d="M882 2035A800 800 0 0 1 659 2002"/><path d="M956 2043A800 800 0 0 1 659 2002"/><path d="M994 2076A800 800 0 0 1 659 2002"/><path d="M659 2002A800 800 0 0 1 250 2043"/><path d="M659 2002A800 800 0 0 1 342 1976"/><path d="M659 2002A800 800 0 0 1 323 2141"/><path d="M659 2002A800 800 0 0 1 358 2256"/><path d="M659 2002A800 800 0 0 1 431 2280"/><path d="M659 2002A800 800 0 0 1 456 2233"/><path d="M774 2214A800 800 0 0 1 659 2002"/><path d="M684 2135A800 800 0 0 1 659 2002"/><path d="M831 2111A800 800 0 0 1 659 2002"/><path d="M602 2402A800 800 0 0 1 659 2002"/><path d="M982 2423A800 800 0 0 1 659 2002"/><path d="M964 2294A800 800 0 0 1 659 2002"/><path d="M850 2359A800 800 0 0 1 659 2002"/><path d="M659 2002A800 800 0 0 1 418 1846"/><path d="M659 2002A800 800 0 0 1 668 1902"/><path d="M713 1932A800 800 0 0 1 659 2002"/><path d="M659 2002A800 800 0 0 1 545 1853"/><path d="M1172 2022A800 800 0 0 1 659 2002"/><path d="M1104 2131A800 800 0 0 1 659 2002"/><path d="M1132 2220A800 800 0 0 1 659 2002"/><path d="M1069 2385A800 800 0 0 1 659 2002"/><path d="M659 2002A800 800 0 0 1 117 1822"/><path d="M659 2002A800 800 0 0 1 149 1740"/><path d="M659 2002A800 800 0 0 1 209 1935"/><path d="M659 2002A800 800 0 0 1 416 2158"/><path d="M659 2002A1000 1000 0 0 1 79 1401"/>
<path d="M820 1819A800 800 0 0 1 733 1663"/><path d="M733 1663A800 800 0 0 1 608 1745"/><path d="M681 1821A800 800 0 0 1 733 1663"/><path d="M1335 2241A800 800 0 0 1 733 1663"/><path d="M511 2223A800 800 0 0 1 733 1663"/><path d="M733 1663A800 800 0 0 1 253 1807"/><path d="M733 1663A800 800 0 0 1 385 1754"/><path d="M733 1663A800 800 0 0 1 149 1740"/><path d="M733 1663A800 800 0 0 1 518 1620"/><path d="M733 1663A800 800 0 0 1 678 1563"/><path d="M733 1663A800 800 0 0 1 418 1846"/><path d="M994 2076A800 800 0 0 1 733 1663"/><path d="M1118 1702A800 800 0 0 1 733 1663"/><path d="M733 1663A800 800 0 0 1 117 1822"/><path d="M733 1663A800 800 0 0 1 295 1669"/><path d="M733 1663A800 800 0 0 1 174 1621"/><path d="M611 2329A800 800 0 0 1 733 1663"/><path d="M982 2423A800 800 0 0 1 733 1663"/><path d="M733 1663A800 800 0 0 1 93 1688"/><path d="M733 1663A800 800 0 0 1 405 1386"/>
<path d="M820 1819A800 800 0 0 1 608 1745"/><path d="M820 1819A800 800 0 0 1 681 1821"/><path d="M1335 2241A800 800 0 0 1 820 1819"/><path d="M994 2076A800 800 0 0 1 820 1819"/><path d="M847 1997A800 800 0 0 1 820 1819"/><path d="M956 2043A800 800 0 0 1 820 1819"/><path d="M820 1819A800 800 0 0 1 424 1924"/><path d="M820 1819A800 800 0 0 1 668 1902"/><path d="M820 1819A800 800 0 0 1 511 2223"/><path d="M820 1819A800 800 0 0 1 606 2116"/><path d="M1118 1702A800 800 0 0 1 820 1819"/><path d="M982 2423A800 800 0 0 1 820 1819"/><path d="M820 1819A800 800 0 0 1 713 1932"/>
<path d="M1335 2241A800 800 0 0 1 1338 2307"/><path d="M1335 2241A800 800 0 0 1 994 2076"/><path d="M1335 2241A800 800 0 0 1 982 2423"/><path d="M1335 2241A800 800 0 0 1 1069 2385"/><path d="M1335 2241A800 800 0 0 1 1153 2383"/><path d="M1335 2241A800 800 0 0 1 1132 2220"/><path d="M1335 2241A800 800 0 0 1 964 2294"/><path d="M1335 2241A800 800 0 0 1 511 2223"/><path d="M1335 2241A800 800 0 0 1 611 2329"/><path d="M1335 2241A800 800 0 0 1 1104 2131"/><path d="M1335 2241A800 800 0 0 1 956 2043"/><path d="M1335 2241A800 800 0 0 1 1172 2022"/><path d="M1335 2241A800 800 0 0 1 882 2035"/><path d="M1335 2241A800 800 0 0 1 602 2402"/><path d="M1335 2241A800 800 0 0 1 850 2359"/><path d="M1335 2241A800 800 0 0 1 608 1745"/><path d="M1335 2241A800 800 0 0 1 606 2116"/>
<path d="M1338 2307A800 800 0 0 1 982 2423"/><path d="M1338 2307A800 800 0 0 1 1069 2385"/><path d="M1338 2307A800 800 0 0 1 611 2329"/><path d="M1338 2307A800 800 0 0 1 511 2223"/><path d="M1338 2307A800 800 0 0 1 994 2076"/><path d="M1338 2307A800 800 0 0 1 964 2294"/>
<path d="M611 2329A800 800 0 0 1 511 2223"/><path d="M606 2116A800 800 0 0 1 511 2223"/><path d="M602 2402A800 800 0 0 1 511 2223"/><path d="M511 2223A800 800 0 0 1 358 2256"/><path d="M511 2223A800 800 0 0 1 431 2280"/><path d="M511 2223A800 800 0 0 1 456 2233"/><path d="M511 2223A800 800 0 0 1 323 2141"/><path d="M774 2214A800 800 0 0 1 511 2223"/><path d="M982 2423A800 800 0 0 1 511 2223"/><path d="M994 2076A800 800 0 0 1 511 2223"/><path d="M511 2223A800 800 0 0 1 250 2043"/><path d="M511 2223A800 800 0 0 1 416 2158"/><path d="M964 2294A800 800 0 0 1 511 2223"/>
<path d="M253 1807A800 800 0 0 1 117 1822"/><path d="M253 1807A800 800 0 0 1 149 1740"/><path d="M385 1754A800 800 0 0 1 253 1807"/><path d="M418 1846A800 800 0 0 1 253 1807"/><path d="M253 1807A800 800 0 0 1 234 1758"/><path d="M253 1807A800 800 0 0 1 222 1880"/><path d="M253 1807A800 800 0 0 1 209 1935"/><path d="M253 1807A800 800 0 0 1 174 1621"/><path d="M253 1807A800 800 0 0 1 93 1688"/><path d="M608 1745A800 800 0 0 1 253 1807"/><path d="M424 1924A800 800 0 0 1 253 1807"/><path d="M250 2043A800 800 0 0 1 253 1807"/>
<path d="M681 1821A800 800 0 0 1 608 1745"/><path d="M608 1745A800 800 0 0 1 385 1754"/><path d="M608 1745A800 800 0 0 1 418 1846"/><path d="M608 1745A800 800 0 0 1 545 1853"/><path d="M994 2076A800 800 0 0 1 608 1745"/><path d="M377 1555A800 800 0 0 1 79 1401"/><path d="M377 1555A800 800 0 0 1 261 1568"/><path d="M377 1555A800 800 0 0 1 174 1621"/><path d="M79 1401A800 800 0 0 1 405 1386"/><path d="M154 1352A800 800 0 0 1 405 1386"/><path d="M424 1924A800 800 0 0 1 250 2043"/><path d="M152 2028A800 800 0 0 1 250 2043"/><path d="M424 1924A800 800 0 0 1 209 1935"/><path d="M684 2135A800 800 0 0 1 606 2116"/><path d="M611 2329A800 800 0 0 1 606 2116"/><path d="M611 2329A800 800 0 0 1 602 2402"/><path d="M964 2294A800 800 0 0 1 611 2329"/><path d="M1069 2385A800 800 0 0 1 982 2423"/><path d="M1153 2383A800 800 0 0 1 982 2423"/><path d="M982 2423A800 800 0 0 1 602 2402"/><path d="M982 2423A800 800 0 0 1 850 2359"/><path d="M994 2076A800 800 0 0 1 956 2043"/><path d="M994 2076A800 800 0 0 1 882 2035"/><path d="M1104 2131A800 800 0 0 1 994 2076"/>
<path d="M847 1997A800 800 0 0 1 733 1663"/><path d="M956 2043A800 800 0 0 1 733 1663"/><path d="M882 2035A800 800 0 0 1 608 1745"/><path d="M681 1821A800 800 0 0 1 385 1754"/><path d="M681 1821A800 800 0 0 1 424 1924"/><path d="M545 1853A800 800 0 0 1 385 1754"/><path d="M1069 2385A800 800 0 0 1 511 2223"/><path d="M956 2043A800 800 0 0 1 606 2116"/><path d="M1132 2220A800 800 0 0 1 994 2076"/><path d="M1335 2241A800 800 0 0 1 847 1997"/><path d="M1335 2241A800 800 0 0 1 684 2135"/><path d="M1338 2307A800 800 0 0 1 850 2359"/><path d="M518 1620A800 800 0 0 1 377 1555"/><path d="M549 1424A800 800 0 0 1 377 1555"/><path d="M222 1536A800 800 0 0 1 79 1401"/><path d="M295 1669A800 800 0 0 1 93 1688"/><path d="M385 1754A800 800 0 0 1 234 1758"/>
</g>
<g class="pr">
<path d="M1357 1401A1000 1000 0 0 1 659 2002"/><path d="M1357 1401A1000 1000 0 0 1 530 1497"/><path d="M1357 1401A800 800 0 0 1 733 1663"/><path d="M1357 1401A800 800 0 0 1 820 1819"/><path d="M1357 1401A800 800 0 0 1 608 1745"/><path d="M1357 1401A800 800 0 0 1 1335 2241"/><path d="M1357 1401A800 800 0 0 1 994 2076"/><path d="M1357 1401A1000 1000 0 0 1 511 2223"/><path d="M1357 1401A800 800 0 0 1 681 1821"/><path d="M1357 1401A800 800 0 0 1 956 2043"/><path d="M1357 1401A800 800 0 0 1 1118 1702"/>
<path d="M1188 1343A800 800 0 0 1 530 1497"/><path d="M1188 1343A800 800 0 0 1 659 2002"/><path d="M1188 1343A800 800 0 0 1 733 1663"/><path d="M1188 1343A800 800 0 0 1 820 1819"/><path d="M1335 2241A800 800 0 0 1 1188 1343"/>
<path d="M1609 1544A1000 1000 0 0 1 659 2002"/><path d="M1609 1544A1300 1300 0 0 1 530 1497"/><path d="M1609 1544A1000 1000 0 0 1 733 1663"/><path d="M1609 1544A800 800 0 0 1 820 1819"/><path d="M1609 1544A800 800 0 0 1 1335 2241"/><path d="M1609 1544A800 800 0 0 1 994 2076"/><path d="M1609 1544A1000 1000 0 0 1 608 1745"/>
<path d="M1832 1734A1300 1300 0 0 1 659 2002"/><path d="M1832 1734A800 800 0 0 1 1335 2241"/><path d="M1832 1734A800 800 0 0 1 1338 2307"/><path d="M1832 1734A1000 1000 0 0 1 820 1819"/><path d="M1832 1734A1300 1300 0 0 1 733 1663"/><path d="M1832 1734A1000 1000 0 0 1 994 2076"/><path d="M1832 1734A1000 1000 0 0 1 982 2423"/>
<path d="M1381 2019A800 800 0 0 1 1335 2241"/><path d="M1381 2019A800 800 0 0 1 1338 2307"/><path d="M1381 2019A800 800 0 0 1 659 2002"/><path d="M1381 2019A800 800 0 0 1 994 2076"/><path d="M1381 2019A800 800 0 0 1 820 1819"/><path d="M1381 2019A800 800 0 0 1 956 2043"/><path d="M1381 2019A800 800 0 0 1 982 2423"/><path d="M1381 2019A1000 1000 0 0 1 511 2223"/><path d="M1381 2019A1000 1000 0 0 1 611 2329"/><path d="M1381 2019A800 800 0 0 1 733 1663"/><path d="M1381 2019A1000 1000 0 0 1 530 1497"/>
<path d="M2095 1563A1000 1000 0 0 1 1335 2241"/><path d="M2095 1563A1300 1300 0 0 1 982 2423"/><path d="M2078 1370A1300 1300 0 0 1 1335 2241"/><path d="M1908 1433A1000 1000 0 0 1 1335 2241"/><path d="M1465 1832A800 800 0 0 1 1335 2241"/><path d="M1338 1696A800 800 0 0 1 1335 2241"/><path d="M1338 1696A800 800 0 0 1 733 1663"/><path d="M1338 1696A800 800 0 0 1 659 2002"/><path d="M1465 1832A800 800 0 0 1 659 2002"/><path d="M1637 1433A1000 1000 0 0 1 659 2002"/><path d="M1637 1433A800 800 0 0 1 1335 2241"/><path d="M1172 1954A800 800 0 0 1 659 2002"/><path d="M1335 2241A800 800 0 0 1 1172 1954"/><path d="M1921 1919A800 800 0 0 1 1335 2241"/><path d="M1758 2005A800 800 0 0 1 1335 2241"/><path d="M1758 2005A800 800 0 0 1 982 2423"/><path d="M2181 1137A1500 1500 0 0 1 1335 2241"/><path d="M2269 1226A1500 1500 0 0 1 1335 2241"/><path d="M2261 1547A1300 1300 0 0 1 1338 2307"/><path d="M2144 1688A1000 1000 0 0 1 1335 2241"/>
<path d="M1338 1696A800 800 0 0 1 820 1819"/><path d="M1465 1832A800 800 0 0 1 733 1663"/><path d="M1465 1832A800 800 0 0 1 820 1819"/><path d="M1417 1694A800 800 0 0 1 820 1819"/><path d="M1338 1696A800 800 0 0 1 608 1745"/><path d="M1609 1544A800 800 0 0 1 681 1821"/><path d="M1417 1694A800 800 0 0 1 659 2002"/><path d="M1465 1832A800 800 0 0 1 956 2043"/><path d="M1381 2019A800 800 0 0 1 882 2035"/><path d="M1465 1832A800 800 0 0 1 994 2076"/><path d="M1338 1696A800 800 0 0 1 994 2076"/><path d="M1417 1694A800 800 0 0 1 1335 2241"/><path d="M1504 1960A800 800 0 0 1 1335 2241"/><path d="M1493 2106A800 800 0 0 1 1335 2241"/><path d="M1523 2163A800 800 0 0 1 1335 2241"/><path d="M1393 2125A800 800 0 0 1 1335 2241"/><path d="M1180 1667A800 800 0 0 1 733 1663"/><path d="M1278 1755A800 800 0 0 1 820 1819"/><path d="M1332 1818A800 800 0 0 1 659 2002"/><path d="M1188 1343A800 800 0 0 1 608 1745"/><path d="M1940 1588A1000 1000 0 0 1 1335 2241"/><path d="M1832 1734A1000 1000 0 0 1 611 2329"/>
</g>
</g>
<g id="nodes">
<g id="n-u-g2b"><circle class="ng" cx="548" cy="130" r="10"/></g>
<g id="n-u-g9"><circle class="ng" cx="485" cy="812" r="16"/></g>
<g id="n-u-g12b"><circle class="ng" cx="513" cy="979" r="12"/></g>
<g id="n-u-g14"><circle class="ng" cx="363" cy="1023" r="16"/></g>
<g id="n-u-g16"><circle class="ng" cx="896" cy="1040" r="47"/></g>
<g id="n-u-g17b"><circle class="ng" cx="543" cy="1140" r="24"/></g>
<g id="n-u-g18"><circle class="ng" cx="459" cy="1156" r="16"/></g>
<g id="n-u-g23"><circle class="ng" cx="618" cy="1302" r="16"/></g>
<g id="n-u-r-fc"><circle class="nr" cx="1188" cy="1343" r="57"/></g>
<g id="n-u-r1908"><circle class="nr" cx="1908" cy="1433" r="35"/></g>
<g id="n-u-r1940"><circle class="nr" cx="1940" cy="1588" r="32"/></g>
<g id="n-u-r1417"><circle class="nr" cx="1417" cy="1694" r="32"/></g>
<g id="n-u-r1500"><circle class="nr" cx="1500" cy="1696" r="32"/></g>
<g id="n-u-r1332"><circle class="nr" cx="1332" cy="1818" r="25"/></g>
<g id="n-u-r1172"><circle class="nr" cx="1172" cy="1954" r="25"/></g>
<g id="n-u-r1278"><circle class="nr" cx="1278" cy="1755" r="22"/></g>
<g id="n-u-r1504"><circle class="nr" cx="1504" cy="1894" r="20"/></g>
<g id="n-u-r1758"><circle class="nr" cx="1758" cy="2005" r="20"/></g>
<g id="n-u-r1629"><circle class="nr" cx="1629" cy="1343" r="19"/></g>
<g id="n-u-r2261"><circle class="nr" cx="2261" cy="1547" r="19"/></g>
<g id="n-u-r1728"><circle class="nr" cx="1728" cy="1702" r="19"/></g>
<g id="n-u-r998"><circle class="nr" cx="1199" cy="998" r="16"/></g>
<g id="n-u-r1800"><circle class="nr" cx="1800" cy="1251" r="16"/></g>
<g id="n-u-r1474"><circle class="nr" cx="1474" cy="1401" r="16"/></g>
<g id="n-u-r1180"><circle class="nr" cx="1180" cy="1667" r="16"/></g>
<g id="n-u-r1913"><circle class="nr" cx="1913" cy="1778" r="16"/></g>
<g id="n-u-r1523"><circle class="nr" cx="1523" cy="920" r="14"/></g>
<g id="n-u-r1902"><circle class="nr" cx="1902" cy="1143" r="14"/></g>
<g id="n-u-r1431"><circle class="nr" cx="1431" cy="1251" r="14"/></g>
<g id="n-u-r2055"><circle class="nr" cx="2055" cy="1295" r="14"/></g>
<g id="n-u-r1493"><circle class="nr" cx="1493" cy="2106" r="14"/></g>
<g id="n-u-r1794"><circle class="nr" cx="1794" cy="1446" r="13"/></g>
<g id="n-u-r1945"><circle class="nr" cx="1945" cy="1864" r="13"/></g>
<g id="n-u-r2078"><circle class="nr" cx="2078" cy="1425" r="12"/></g>
<g id="n-u-r1810"><circle class="nr" cx="1810" cy="1666" r="12"/></g>
<g id="n-u-r1504b"><circle class="nr" cx="1504" cy="1960" r="12"/></g>
<g id="n-u-r1484"><circle class="nr" cx="1484" cy="868" r="11"/></g>
<g id="n-u-p2307"><circle class="np" cx="1338" cy="2307" r="32"/></g>
<g id="n-u-p681"><circle class="np" cx="681" cy="1821" r="32"/></g>
<g id="n-u-p956"><circle class="np" cx="956" cy="2043" r="27"/></g>
<g id="n-u-p847"><circle class="np" cx="847" cy="1997" r="25"/></g>
<g id="n-u-p882"><circle class="np" cx="882" cy="2035" r="22"/></g>
<g id="n-u-p261"><circle class="np" cx="261" cy="1568" r="21"/></g>
<g id="n-u-p1069"><circle class="np" cx="1069" cy="2385" r="20"/></g>
<g id="n-u-p93"><circle class="np" cx="93" cy="1688" r="19"/></g>
<g id="n-u-p1132"><circle class="np" cx="1132" cy="2220" r="19"/></g>
<g id="n-u-p79"><circle class="np" cx="79" cy="1401" r="16"/></g>
<g id="n-u-p405"><circle class="np" cx="405" cy="1386" r="16"/></g>
<g id="n-u-p549"><circle class="np" cx="549" cy="1424" r="16"/></g>
<g id="n-u-p518"><circle class="np" cx="518" cy="1620" r="16"/></g>
<g id="n-u-p684"><circle class="np" cx="684" cy="2135" r="16"/></g>
<g id="n-u-p295"><circle class="np" cx="295" cy="1669" r="14"/></g>
<g id="n-u-p234"><circle class="np" cx="234" cy="1758" r="14"/></g>
<g id="n-u-p545"><circle class="np" cx="545" cy="1853" r="14"/></g>
<g id="n-u-p209"><circle class="np" cx="209" cy="1935" r="14"/></g>
<g id="n-u-p222"><circle class="np" cx="222" cy="1536" r="13"/></g>
<g id="n-u-p470"><circle class="np" cx="470" cy="1265" r="13"/></g>
<g id="n-u-p831"><circle class="np" cx="831" cy="2111" r="13"/></g>
<g id="n-u-p154"><circle class="np" cx="154" cy="1352" r="12"/></g>
<g id="n-u-p678"><circle class="np" cx="678" cy="1563" r="12"/></g>
<g id="n-u-p713"><circle class="np" cx="713" cy="1932" r="12"/></g>
<g id="n-u-p342"><circle class="np" cx="342" cy="1976" r="12"/></g>
<g id="n-u-p405b"><circle class="np" cx="405" cy="2011" r="12"/></g>
<g id="n-u-p456"><circle class="np" cx="456" cy="2233" r="12"/></g>
<g id="n-u-p431"><circle class="np" cx="431" cy="2280" r="12"/></g>
<g id="n-u-p850"><circle class="np" cx="850" cy="2359" r="12"/></g>
<g id="n-u-p1153"><circle class="np" cx="1153" cy="2383" r="12"/></g>
<g id="n-u-p1118"><circle class="np" cx="1118" cy="1702" r="11"/></g>
<g id="n-u-p222b"><circle class="np" cx="222" cy="1880" r="11"/></g>
<g id="n-u-p152"><circle class="np" cx="152" cy="2028" r="11"/></g>
<g id="n-u-p416"><circle class="np" cx="416" cy="2158" r="11"/></g>
<g id="n-u-p1172"><circle class="np" cx="1172" cy="2022" r="10"/></g>
<g id="n-u-p103"><circle class="np" cx="103" cy="1160" r="10"/></g>

<g id="n-storage-system"><circle class="ng" cx="945" cy="1257" r="60"/><text x="939" y="1253" font-size="59">storage system</text></g>
<g id="n-electric-vehicle"><circle class="np" cx="659" cy="2002" r="60"/><text x="652" y="2000" font-size="57">electric vehicle</text></g>
<g id="n-cost"><circle class="np" cx="530" cy="1497" r="59"/><text x="529" y="1497" font-size="58">cost</text></g>
<g id="n-charge"><circle class="nr" cx="1357" cy="1401" r="57"/><text x="1355" y="1403" font-size="58">charge</text></g>
<g id="n-state"><circle class="nr" cx="1609" cy="1544" r="54"/><text x="1609" y="1544" font-size="54">state</text></g>
<g id="n-storage"><circle class="ng" cx="671" cy="1053" r="52"/><text x="668" y="1055" font-size="55">storage</text></g>
<g id="n-control"><circle class="nr" cx="1832" cy="1734" r="51"/><text x="1834" y="1736" font-size="55">control</text></g>
<g id="n-condition"><circle class="nr" cx="1284" cy="961" r="44"/><text x="1283" y="961" font-size="51">condition</text></g>
<g id="n-station"><circle class="np" cx="820" cy="1819" r="44"/><text x="819" y="1819" font-size="51">station</text></g>
<g id="n-efficiency"><circle class="ng" cx="1013" cy="852" r="43"/><text x="1015" y="854" font-size="51">efficiency</text></g>
<g id="n-demand"><circle class="np" cx="733" cy="1663" r="43"/><text x="730" y="1663" font-size="52">demand</text></g>
<g id="n-microgrid"><circle class="nr" cx="1381" cy="2019" r="40"/><text x="1379" y="2019" font-size="48">microgrid</text></g>
<g id="n-mode"><circle class="nr" cx="1637" cy="1433" r="38"/><text x="1637" y="1433" font-size="48">mode</text></g>
<g id="n-voltage"><circle class="nr" cx="2095" cy="1563" r="38"/><text x="2097" y="1563" font-size="49">voltage</text></g>
<g id="n-battery-energy-storage-system"><circle class="np" cx="1335" cy="2241" r="38"/><text x="1335" y="2241" font-size="49">battery energy storage system</text></g>
<g id="n-technology"><circle class="ng" cx="649" cy="1143" r="35"/><text x="651" y="1142" font-size="48">technology</text></g>
<g id="n-electricity"><circle class="ng" cx="312" cy="1199" r="35"/><text x="309" y="1199" font-size="45">electricity</text></g>
<g id="n-converter"><circle class="nr" cx="2078" cy="1370" r="35"/><text x="2078" y="1371" font-size="48">converter</text></g>
<g id="n-effectiveness"><circle class="nr" cx="1338" cy="1696" r="35"/><text x="1340" y="1696" font-size="49">effectiveness</text></g>
<g id="n-scheme"><circle class="nr" cx="1465" cy="1832" r="35"/><text x="1463" y="1832" font-size="45">scheme</text></g>
<g id="n-case-study"><circle class="np" cx="608" cy="1745" r="32"/><text x="603" y="1740" font-size="45">case study</text></g>
<g id="n-uncertainty"><circle class="np" cx="511" cy="2223" r="28"/><text x="510" y="2223" font-size="45">uncertainty</text></g>
<g id="n-configuration"><circle class="ng" cx="713" cy="948" r="25"/><text x="706" y="948" font-size="45">configuration</text></g>
<g id="n-period"><circle class="ng" cx="570" cy="1227" r="25"/><text x="568" y="1227" font-size="44">period</text></g>
<g id="n-fluctuation"><circle class="nr" cx="1504" cy="1322" r="25"/><text x="1506" y="1322" font-size="42">fluctuation</text></g>
<g id="n-price"><circle class="np" cx="253" cy="1807" r="25"/><text x="253" y="1802" font-size="42">price</text></g>
<g id="n-cycle"><circle class="ng" cx="844" cy="684" r="24"/><text x="842" y="684" font-size="45">cycle</text></g>
<g id="n-stability"><circle class="nr" cx="1471" cy="1207" r="24"/><text x="1469" y="1208" font-size="42">stability</text></g>
<g id="n-temperature"><circle class="ng" cx="692" cy="413" r="22"/><text x="689" y="412" font-size="45">temperature</text></g>
<g id="n-benefit"><circle class="np" cx="385" cy="1754" r="22"/><text x="391" y="1751" font-size="43">benefit</text></g>
<g id="n-penetration"><circle class="np" cx="994" cy="2076" r="22"/><text x="994" y="2075" font-size="42">penetration</text></g>
<g id="n-framework"><circle class="np" cx="606" cy="2116" r="22"/><text x="608" y="2116" font-size="42">framework</text></g>
<g id="n-scheduling"><circle class="np" cx="611" cy="2329" r="22"/><text x="613" y="2329" font-size="42">scheduling</text></g>
<g id="n-distribution-network"><circle class="np" cx="982" cy="2423" r="22"/><text x="987" y="2424" font-size="39">distribution network</text></g>
<g id="n-solar-energy"><circle class="ng" cx="652" cy="777" r="20"/><text x="659" y="777" font-size="43">solar energy</text></g>
<g id="n-inverter"><circle class="nr" cx="1796" cy="1303" r="20"/><text x="1794" y="1303" font-size="42">inverter</text></g>
<g id="n-heat"><circle class="ng" cx="364" cy="453" r="19"/><text x="364" y="453" font-size="39">heat</text></g>
<g id="n-building"><circle class="np" cx="377" cy="1555" r="19"/><text x="380" y="1552" font-size="43">building</text></g>
<g id="n-dc-dc-converter"><circle class="nr" cx="2269" cy="1226" r="17"/><text x="2269" y="1226" font-size="38">dc dc converter</text></g>
<g id="n-market"><circle class="np" cx="117" cy="1822" r="17"/><text x="117" y="1818" font-size="38">market</text></g>
<g id="n-evaluation"><circle class="ng" cx="451" cy="980" r="16"/><text x="450" y="980" font-size="38">evaluation</text></g>
<g id="n-maximum-power-point-tracking"><circle class="nr" cx="2181" cy="1137" r="16"/><text x="2182" y="1138" font-size="39">maximum power point tracking</text></g>
<g id="n-control-method"><circle class="nr" cx="2144" cy="1688" r="16"/><text x="2141" y="1686" font-size="36">control method</text></g>
<g id="n-tariff"><circle class="np" cx="149" cy="1740" r="16"/><text x="149" y="1736" font-size="38">tariff</text></g>
<g id="n-infrastructure"><circle class="np" cx="424" cy="1924" r="16"/><text x="423" y="1919" font-size="38">infrastructure</text></g>
<g id="n-optimization-model"><circle class="np" cx="250" cy="2043" r="16"/><text x="253" y="2038" font-size="38">optimization model</text></g>
<g id="n-optimization-problem"><circle class="np" cx="602" cy="2402" r="16"/><text x="602" y="2400" font-size="36">optimization problem</text></g>
<g id="n-module"><circle class="nr" cx="1436" cy="874" r="14"/><text x="1436" y="873" font-size="38">module</text></g>
<g id="n-supercapacitor"><circle class="nr" cx="2005" cy="1075" r="14"/><text x="2003" y="1074" font-size="38">supercapacitor</text></g>
<g id="n-frequency"><circle class="nr" cx="1998" cy="1629" r="14"/><text x="2008" y="1631" font-size="38">frequency</text></g>
<g id="n-voltage-regulation"><circle class="nr" cx="1921" cy="1919" r="14"/><text x="1913" y="1916" font-size="36">voltage regulation</text></g>
<g id="n-profit"><circle class="np" cx="323" cy="2141" r="14"/><text x="318" y="2138" font-size="36">profit</text></g>
<g id="n-pso"><circle class="np" cx="964" cy="2294" r="14"/><text x="912" y="2329" font-size="37">pso</text></g>
<g id="n-pv-array"><circle class="nr" cx="1821" cy="1186" r="13"/><text x="1821" y="1186" font-size="36">pv array</text></g>
<g id="n-phase-change-material"><circle class="ng" cx="435" cy="114" r="11"/><text x="432" y="113" font-size="36">phase change material</text></g>
<g id="n-thermal-energy-storage"><circle class="ng" cx="448" cy="290" r="11"/><text x="442" y="290" font-size="38">thermal energy storage</text></g>
<g id="n-levelized-cost"><circle class="ng" cx="230" cy="1010" r="11"/><text x="225" y="1010" font-size="36">levelized cost</text></g>
<g id="n-possibility"><circle class="ng" cx="149" cy="1167" r="12"/><text x="98" y="1159" font-size="36">possibility</text></g>
<g id="n-energy-consumption"><circle class="np" cx="264" cy="1397" r="12"/><text x="261" y="1400" font-size="36">energy consumption</text></g>
<g id="n-household"><circle class="np" cx="174" cy="1621" r="12"/><text x="174" y="1615" font-size="36">household</text></g>
<g id="n-home"><circle class="np" cx="418" cy="1846" r="12"/><text x="418" y="1840" font-size="36">home</text></g>
<g id="n-power-fluctuation"><circle class="nr" cx="1968" cy="1479" r="12"/><text x="1964" y="1476" font-size="36">power fluctuation</text></g>
<g id="n-power-flow"><circle class="nr" cx="1631" cy="2003" r="12"/><text x="1634" y="2000" font-size="40">power flow</text></g>
<g id="n-ems"><circle class="nr" cx="1393" cy="2125" r="12"/><text x="1390" y="2125" font-size="35">ems</text></g>
<g id="n-evs"><circle class="np" cx="358" cy="2256" r="12"/><text x="358" y="2253" font-size="36">evs</text></g>
<g id="n-v2g"><circle class="np" cx="774" cy="2214" r="12"/><text x="825" y="2211" font-size="37">v2g</text></g>
<g id="n-investigation"><circle class="ng" cx="836" cy="583" r="10"/><text x="834" y="583" font-size="36">investigation</text></g>
<g id="n-energy-storage-unit"><circle class="nr" cx="1606" cy="934" r="10"/><text x="1607" y="936" font-size="36">energy storage unit</text></g>
<g id="n-fuel-cell"><circle class="nr" cx="1120" cy="1357" r="10"/><text x="1102" y="1355" font-size="37">fuel cell</text></g>
<g id="n-fossil-fuel"><circle class="np" cx="686" cy="1349" r="10"/><text x="711" y="1343" font-size="36">fossil fuel</text></g>
<g id="n-service"><circle class="np" cx="668" cy="1902" r="10"/><text x="668" y="1900" font-size="37">service</text></g>
<g id="n-heat-transfer-fluid"><circle class="ng" cx="461" cy="35" r="8"/><text x="461" y="36" font-size="36">heat transfer fluid</text></g>
<g id="n-pv-module"><circle class="nr" cx="1175" cy="1069" r="8"/><text x="1175" y="1069" font-size="35">pv module</text></g>
<g id="n-intermittent-nature"><circle class="nr" cx="1425" cy="1055" r="8"/><text x="1435" y="1055" font-size="36">intermittent nature</text></g>
<g id="n-hess"><circle class="nr" cx="1983" cy="1262" r="8"/><text x="1983" y="1259" font-size="36">hess</text></g>
<g id="n-real-time"><circle class="nr" cx="1370" cy="1897" r="8"/><text x="1370" y="1897" font-size="35">real time</text></g>
<g id="n-efficacy"><circle class="nr" cx="1523" cy="2163" r="8"/><text x="1533" y="2163" font-size="35">efficacy</text></g>
<g id="n-high-penetration"><circle class="np" cx="1104" cy="2133" r="8"/><text x="1104" y="2131" font-size="36">high penetration</text></g>
</g>
</svg>
